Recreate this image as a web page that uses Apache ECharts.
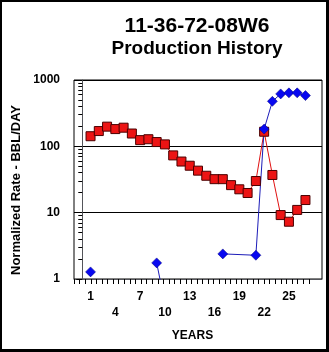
<!DOCTYPE html>
<html>
<head>
<meta charset="utf-8">
<script src="https://cdn.jsdelivr.net/npm/echarts@6/dist/echarts.min.js"></script>
<style>
html,body{margin:0;padding:0;background:#fff;}
#chart{position:absolute;left:0;top:0;width:329px;height:352px;}
#frame{position:absolute;left:0;top:0;width:329px;height:352px;box-sizing:border-box;border-style:solid;border-color:#000;border-width:2px 3px 3px 2px;pointer-events:none;}
</style>
</head>
<body>
<div id="chart"></div><div id="frame"></div>
<script>
var titleLine1 = '11-36-72-08W6';
var titleLine2 = 'Production History';
var yAxisTitle = 'Normalized Rate - BBL/DAY';
var xAxisTitle = 'YEARS';

var xLabelsRow1 = [1, 7, 13, 19, 25];
var xLabelsRow2 = [4, 10, 16, 22];
var yMinorTickValues = [2,3,4,5,6,7,8,9,20,30,40,50,60,70,80,90,200,300,400,500,600,700,800,900];

var redYears  = [1,2,3,4,5,6,7,8,9,10,11,12,13,14,15,16,17,18,19,20,21,22,23,24,25,26,27];
var redValues = [142,170,198,182,191,156,124,128,116,107,73,59,51,43,36,32,32,26,22.5,19.8,30,166,37,9.2,7.3,11,15.5];

var blueYears  = [1,2,9,10,11,17,21,22,23,24,25,26,27];
var blueValues = [1.28,null,1.75,0.43,null,2.39,2.28,182,477,617,640,640,582];

function pairs(xs, ys){ return xs.map(function(x,i){ return [x, ys[i] == null ? '-' : ys[i]]; }); }

// x tick marks (axis decoration)
var xTickValues = [];
for (var k = 0; k <= 42; k++) xTickValues.push(-1 + k * 28.4 / 42);

var FONT = 'Liberation Sans, Arial, sans-serif';
var chart = echarts.init(document.getElementById('chart'));
chart.setOption({
  animation: false,
  title: [
    {text: titleLine1, left: 197, top: 14, textAlign: 'center', padding: 0,
     textStyle: {fontSize: 21, fontWeight: 'bold', color: '#000', fontFamily: FONT, lineHeight: 24}},
    {text: titleLine2, left: 197, top: 38, textAlign: 'center', padding: 0,
     textStyle: {fontSize: 19, fontWeight: 'bold', color: '#000', fontFamily: FONT, lineHeight: 22}},
    {text: xAxisTitle, left: 192.5, top: 329, textAlign: 'center', padding: 0,
     textStyle: {fontSize: 12, fontWeight: 'bold', color: '#000', fontFamily: FONT, lineHeight: 14}}
  ],
  grid: {left: 74, top: 80, width: 248, height: 199, show: true, borderColor: '#000', borderWidth: 1},
  xAxis: [{
    type: 'value', min: -1, max: 29, position: 'bottom',
    axisTick: {show: true, length: 5, lineStyle: {color: '#000'}, customValues: xTickValues},
    axisLabel: {customValues: xLabelsRow1, margin: 12, color: '#000', fontSize: 12, fontWeight: 'bold', fontFamily: FONT},
    splitLine: {show: false}
  }, {
    type: 'value', min: -1, max: 29, position: 'bottom', offset: 0,
    axisLine: {show: false}, axisTick: {show: false},
    axisLabel: {customValues: xLabelsRow2, margin: 28, color: '#000', fontSize: 12, fontWeight: 'bold', fontFamily: FONT},
    splitLine: {show: false}
  }],
  yAxis: [{
    type: 'log', min: 1, max: 1000,
    axisTick: {show: true, length: 6, lineStyle: {color: '#000'}},
    axisLabel: {margin: 14, color: '#000', fontSize: 12, fontWeight: 'bold', fontFamily: FONT,
      formatter: function(v){ return String(Math.round(v)); }},
    splitLine: {show: true, lineStyle: {color: '#000', width: 1}}
  }, {
    type: 'log', min: 1, max: 1000, position: 'left', offset: 0,
    axisLine: {show: false}, axisLabel: {show: false}, splitLine: {show: false},
    axisTick: {show: true, length: 4, lineStyle: {color: '#000'}, customValues: yMinorTickValues}
  }],
  graphic: [
    {type: 'text', x: 16, y: 190, rotation: Math.PI / 2, style: {text: yAxisTitle, font: 'bold 13px ' + FONT, fill: '#000', textAlign: 'center', textVerticalAlign: 'middle'}}
  ],
  series: [{
    type: 'line', data: pairs(redYears, redValues), symbol: 'rect', symbolSize: 9,
    lineStyle: {color: '#e01010', width: 1},
    itemStyle: {color: '#ec1414', borderColor: '#4a0000', borderWidth: 1}
  }, {
    type: 'line', data: pairs(blueYears, blueValues), symbol: 'diamond', symbolSize: 10,
    lineStyle: {color: '#1c1cb8', width: 1},
    itemStyle: {color: '#0808f0', borderColor: '#00007a', borderWidth: 0.5}
  }]
});
</script>
</body>
</html>
